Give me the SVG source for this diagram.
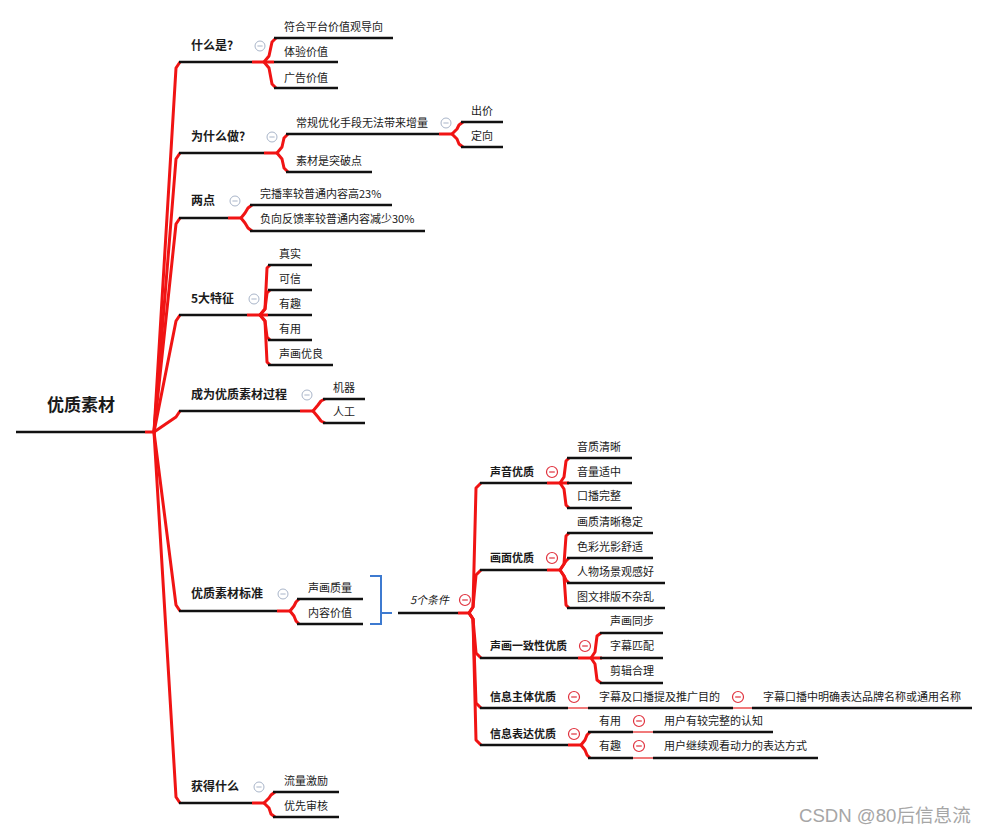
<svg xmlns="http://www.w3.org/2000/svg" xmlns:xlink="http://www.w3.org/1999/xlink" width="989" height="833" viewBox="0 0 989 833">
<style>
text{font-family:"Noto Sans CJK SC","Microsoft YaHei",sans-serif;fill:#1a1a1a}
.t{font-size:11px}
.b{font-size:12px;font-weight:bold}
.s{font-size:11px;font-weight:bold}
.root{font-size:17px;font-weight:bold}
.u{stroke:#111;stroke-width:2.4;fill:none}
.r{stroke:#f01414;stroke-width:3;fill:none;stroke-linejoin:round;stroke-linecap:butt}
.lr{stroke:#f07a7a;stroke-width:2;fill:none}
.wm{font-family:"Liberation Sans","Noto Sans CJK SC",sans-serif;font-size:18.6px;fill:#a6a6a6}
</style>
<defs>
<g id="cg"><circle r="5" fill="#fff" stroke="#a9b5c9" stroke-width="1"/><line x1="-2.6" y1="0" x2="2.6" y2="0" stroke="#a9b5c9" stroke-width="1"/></g>
<g id="cr"><circle r="5.5" fill="#fff" stroke="#e0323e" stroke-width="1.2"/><line x1="-2.8" y1="0" x2="2.8" y2="0" stroke="#e0323e" stroke-width="1.2"/></g>
</defs>
<rect width="989" height="833" fill="#fff"/>

<g id="connectors">
<path class="r" d="M145,432H156"/>
<path class="r" d="M154,432L176,68L180,62"/>
<path class="r" d="M154,432L176,159L180,153"/>
<path class="r" d="M154,432L176,224L180,218"/>
<path class="r" d="M154,432L176,321L180,315"/>
<path class="r" d="M154,432L176,417L180,411"/>
<path class="r" d="M154,432L176,605L180,611"/>
<path class="r" d="M154,432L176,797L180,803"/>
<!-- 什么是 -->
<path class="r" d="M252,62H274"/>
<path class="r" d="M264,62L269,56L272,42L276,38"/>
<path class="r" d="M264,62L269,68L272,84L276,88"/>
<!-- 为什么做 -->
<path class="r" d="M264,153H278"/>
<path class="r" d="M277,153L282,147L284,138L288,134"/>
<path class="r" d="M277,153L282,159L284,168L288,172"/>
<path class="r" d="M439,134H453"/>
<path class="r" d="M452,134L457,129L459,125L463,122"/>
<path class="r" d="M452,134L457,139L459,144L463,147"/>
<!-- 两点 -->
<path class="r" d="M228,218H242"/>
<path class="r" d="M241,218L245,213L248,208L252,205"/>
<path class="r" d="M241,218L245,223L248,228L252,231"/>
<!-- 5大特征 -->
<path class="r" d="M247,315H268"/>
<path class="r" d="M260,315L265,309L267,268L270,265"/>
<path class="r" d="M260,315L265,309L267,293L270,290"/>
<path class="r" d="M260,315L265,321L267,337L270,340"/>
<path class="r" d="M260,315L265,321L267,362L270,365"/>
<!-- 成为 -->
<path class="r" d="M300,411H314"/>
<path class="r" d="M313,411L318,405L321,401L325,399"/>
<path class="r" d="M313,411L318,417L321,421L325,423"/>
<!-- 标准 -->
<path class="r" d="M277,611H291"/>
<path class="r" d="M290,611L294,606L296,602L299,599"/>
<path class="r" d="M290,611L294,616L296,621L299,624"/>
<!-- 获得什么 -->
<path class="r" d="M252,803H265"/>
<path class="r" d="M264,803L269,798L271,795L275,792"/>
<path class="r" d="M264,803L269,808L271,814L275,817"/>
<!-- bracket -->
<path d="M370,576H381V624H370M381,613H392" fill="none" stroke="#3d7ad0" stroke-width="2"/>
<!-- 5个条件 trunk -->
<path class="r" d="M458,613H471"/>
<path class="r" d="M469,613L473,607L476,488L481,483"/>
<path class="r" d="M469,613L473,607L476,575L481,570"/>
<path class="r" d="M469,613L473,619L476,653L481,658"/>
<path class="r" d="M469,613L473,619L476,703L481,708"/>
<path class="r" d="M469,613L473,619L476,740L481,745"/>
<!-- 声音优质 -->
<path class="r" d="M547,483H569"/>
<path class="r" d="M560,483L564,477L566,461L569,458"/>
<path class="r" d="M560,483L564,489L566,505L569,508"/>
<!-- 画面优质 -->
<path class="r" d="M547,570H561"/>
<path class="r" d="M560,570L564,564L566,536L569,533"/>
<path class="r" d="M560,570L564,564L566,561L569,558"/>
<path class="r" d="M560,570L564,576L566,580L569,583"/>
<path class="r" d="M560,570L564,576L566,605L569,608"/>
<!-- 声画一致性优质 -->
<path class="r" d="M578,658H602"/>
<path class="r" d="M591,658L595,652L597,636L601,633"/>
<path class="r" d="M591,658L595,664L597,680L601,683"/>
<!-- 信息主体 -->
<path class="lr" d="M568,708H588M733,708H752"/>
<!-- 信息表达 -->
<path class="r" d="M568,745H582"/>
<path class="r" d="M581,745L585,740L587,735L590,732"/>
<path class="r" d="M581,745L585,750L587,755L590,758"/>
<path class="lr" d="M633,732H653M633,758H653"/>
</g>

<g id="root">
<text class="root" x="47" y="411">优质素材</text>
<path class="u" d="M16,432H145"/>
</g>

<g id="n-shenmeshi">
<text class="b" x="191" y="50">什么是?</text>
<path class="u" d="M179,62H252"/>
<use xlink:href="#cg" x="260" y="46"/>
</g>
<g id="n-fuhe"><text class="t" x="284" y="31">符合平台价值观导向</text><path class="u" d="M274,38H393"/></g>
<g id="n-tiyan"><text class="t" x="284" y="56">体验价值</text><path class="u" d="M274,62H338"/></g>
<g id="n-guanggao"><text class="t" x="284" y="82">广告价值</text><path class="u" d="M274,88H338"/></g>

<g id="n-weishenme">
<text class="b" x="191" y="141">为什么做?</text>
<path class="u" d="M179,153H264"/>
<use xlink:href="#cg" x="272" y="137"/>
</g>
<g id="n-changgui"><text class="t" x="296" y="127">常规优化手段无法带来增量</text><path class="u" d="M286,134H439"/><use xlink:href="#cg" x="446" y="123"/></g>
<g id="n-chujia"><text class="t" x="471" y="115">出价</text><path class="u" d="M461,122H503"/></g>
<g id="n-dingxiang"><text class="t" x="471" y="140">定向</text><path class="u" d="M461,147H503"/></g>
<g id="n-sucai"><text class="t" x="296" y="165">素材是突破点</text><path class="u" d="M286,172H372"/></g>

<g id="n-liangdian">
<text class="b" x="191" y="205">两点</text>
<path class="u" d="M179,218H228"/>
<use xlink:href="#cg" x="235" y="201"/>
</g>
<g id="n-wanbo"><text class="t" x="260" y="198">完播率较普通内容高23%</text><path class="u" d="M250,205H392"/></g>
<g id="n-fuxiang"><text class="t" x="260" y="223">负向反馈率较普通内容减少30%</text><path class="u" d="M250,231H425"/></g>

<g id="n-tezheng">
<text class="b" x="191" y="303">5大特征</text>
<path class="u" d="M179,315H247"/>
<use xlink:href="#cg" x="254" y="299"/>
</g>
<g id="n-zhenshi"><text class="t" x="279" y="258">真实</text><path class="u" d="M268,265H312"/></g>
<g id="n-kexin"><text class="t" x="279" y="283">可信</text><path class="u" d="M268,290H312"/></g>
<g id="n-youqu"><text class="t" x="279" y="308">有趣</text><path class="u" d="M268,315H312"/></g>
<g id="n-youyong"><text class="t" x="279" y="333">有用</text><path class="u" d="M268,340H312"/></g>
<g id="n-shenghua"><text class="t" x="279" y="358">声画优良</text><path class="u" d="M268,365H333"/></g>

<g id="n-chengwei">
<text class="b" x="191" y="399">成为优质素材过程</text>
<path class="u" d="M179,411H300"/>
<use xlink:href="#cg" x="307" y="395"/>
</g>
<g id="n-jiqi"><text class="t" x="333" y="392">机器</text><path class="u" d="M323,399H365"/></g>
<g id="n-rengong"><text class="t" x="333" y="416">人工</text><path class="u" d="M323,423H365"/></g>

<g id="n-biaozhun">
<text class="b" x="191" y="598">优质素材标准</text>
<path class="u" d="M179,611H277"/>
<use xlink:href="#cg" x="283" y="594"/>
</g>
<g id="n-shenghuazhiliang"><text class="t" x="308" y="592">声画质量</text><path class="u" d="M297,599H363"/></g>
<g id="n-neirong"><text class="t" x="308" y="617">内容价值</text><path class="u" d="M297,624H363"/></g>

<g id="n-tiaojian">
<text class="t" x="410" y="604" font-style="italic">5个条件</text>
<path class="u" d="M398,613H458"/>
<use xlink:href="#cr" x="465" y="600"/>
</g>

<g id="n-shengyin">
<text class="s" x="490" y="476">声音优质</text>
<path class="u" d="M480,483H547"/>
<use xlink:href="#cr" x="552" y="472"/>
</g>
<g id="n-yinzhi"><text class="t" x="577" y="451">音质清晰</text><path class="u" d="M567,458H632"/></g>
<g id="n-yinliang"><text class="t" x="577" y="476">音量适中</text><path class="u" d="M567,483H632"/></g>
<g id="n-koubo"><text class="t" x="577" y="500">口播完整</text><path class="u" d="M567,508H632"/></g>

<g id="n-huamian">
<text class="s" x="490" y="562">画面优质</text>
<path class="u" d="M480,570H547"/>
<use xlink:href="#cr" x="552" y="558"/>
</g>
<g id="n-huazhi"><text class="t" x="577" y="526">画质清晰稳定</text><path class="u" d="M567,533H653"/></g>
<g id="n-secai"><text class="t" x="577" y="551">色彩光影舒适</text><path class="u" d="M567,558H653"/></g>
<g id="n-renwu"><text class="t" x="577" y="576">人物场景观感好</text><path class="u" d="M567,583H665"/></g>
<g id="n-tuwen"><text class="t" x="577" y="601">图文排版不杂乱</text><path class="u" d="M567,608H665"/></g>

<g id="n-yizhi">
<text class="s" x="490" y="650">声画一致性优质</text>
<path class="u" d="M480,658H578"/>
<use xlink:href="#cr" x="585" y="646"/>
</g>
<g id="n-tongbu"><text class="t" x="610" y="625">声画同步</text><path class="u" d="M600,633H663"/></g>
<g id="n-pipei"><text class="t" x="610" y="650">字幕匹配</text><path class="u" d="M600,658H663"/></g>
<g id="n-jianji"><text class="t" x="610" y="675">剪辑合理</text><path class="u" d="M600,683H663"/></g>

<g id="n-zhuti">
<text class="s" x="490" y="701">信息主体优质</text>
<path class="u" d="M480,708H568"/>
<use xlink:href="#cr" x="574" y="697"/>
</g>
<g id="n-tiji"><text class="t" x="599" y="701">字幕及口播提及推广目的</text><path class="u" d="M588,708H733"/><use xlink:href="#cr" x="738" y="697"/></g>
<g id="n-mingque"><text class="t" x="763" y="701">字幕口播中明确表达品牌名称或通用名称</text><path class="u" d="M752,708H972"/></g>

<g id="n-biaoda">
<text class="s" x="490" y="738">信息表达优质</text>
<path class="u" d="M480,745H568"/>
<use xlink:href="#cr" x="574" y="734"/>
</g>
<g id="n-youyong2"><text class="t" x="599" y="725">有用</text><path class="u" d="M588,732H633"/><use xlink:href="#cr" x="639" y="721"/></g>
<g id="n-renzhi"><text class="t" x="664" y="725">用户有较完整的认知</text><path class="u" d="M653,732H773"/></g>
<g id="n-youqu2"><text class="t" x="599" y="750">有趣</text><path class="u" d="M588,758H633"/><use xlink:href="#cr" x="639" y="746"/></g>
<g id="n-dongli"><text class="t" x="664" y="750">用户继续观看动力的表达方式</text><path class="u" d="M653,758H818"/></g>

<g id="n-huode">
<text class="b" x="191" y="791">获得什么</text>
<path class="u" d="M179,803H252"/>
<use xlink:href="#cg" x="259" y="787"/>
</g>
<g id="n-liuliang"><text class="t" x="284" y="785">流量激励</text><path class="u" d="M273,792H339"/></g>
<g id="n-youxian"><text class="t" x="284" y="810">优先审核</text><path class="u" d="M273,817H339"/></g>

<text class="wm" x="799" y="822">CSDN @80后信息流</text>
</svg>
